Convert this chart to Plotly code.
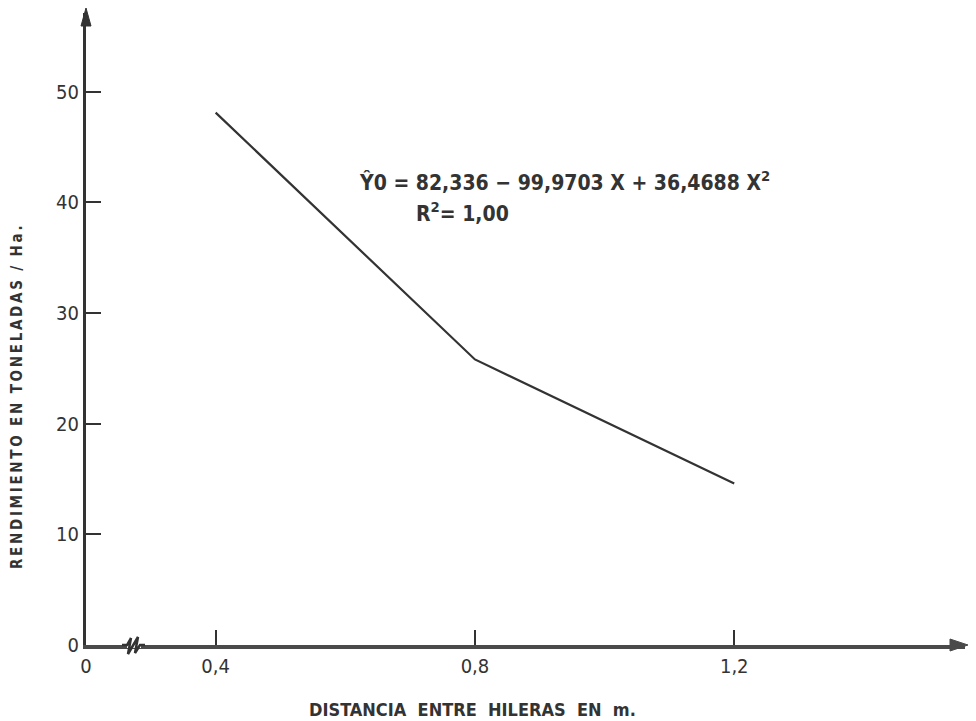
import plotly.graph_objects as go

# Data
distancia = [0.4, 0.8, 1.2]          # m between rows
rendimiento = [48.1, 25.8, 14.6]     # t/ha

x_tickvals = [0.2, 0.4, 0.8, 1.2]
x_ticktext = ["0", "0,4", "0,8", "1,2"]
y_tickvals = [0, 10, 20, 30, 40, 50]
y_ticktext = ["0", "10", "20", "30", "40", "50"]

FONT = "DejaVu Sans Condensed, Roboto Condensed, Liberation Sans Narrow, Roboto, sans-serif"
INK = "#333333"

fig = go.Figure()
fig.add_trace(go.Scatter(x=distancia, y=rendimiento, mode="lines",
                         line=dict(color=INK, width=2.2), showlegend=False,
                         hoverinfo="skip"))

XR = [0.2, 1.556]
YR = [0, 57.1]

# page body has an 8px margin; plot area is placed at x 86..965, y 13..645 on screen
L, T, PW, PH = 86, 13, 879, 632

def px(p):
    return (p - L) / PW

def py(p):
    return (T + PH - p) / PH

fig.update_layout(
    width=968, height=713,
    margin=dict(l=L - 8, r=968 - (L - 8) - PW, t=T - 8, b=713 - (T - 8) - PH),
    paper_bgcolor="white", plot_bgcolor="white",
    font=dict(family=FONT, color=INK),
    xaxis=dict(range=XR, tickvals=x_tickvals, ticktext=x_ticktext,
               ticks="inside", ticklen=15, tickwidth=2, tickcolor=INK,
               showline=True, linewidth=4, linecolor="#4a4a4a",
               showgrid=False, zeroline=False, automargin=False,
               tickfont=dict(size=20, family=FONT, color=INK)),
    yaxis=dict(range=YR, tickvals=y_tickvals, ticktext=y_ticktext,
               ticks="inside", ticklen=15, tickwidth=2, tickcolor=INK,
               showline=True, linewidth=3, linecolor="#333333",
               showgrid=False, zeroline=False, automargin=False,
               tickfont=dict(size=20, family=FONT, color=INK)),
)

NB = "\u00a0"

# Axis titles
xtitle = "DISTANCIA ENTRE HILERAS EN m."
xtitle_spaced = (NB * 2).join(xtitle.split(" "))
fig.add_annotation(xref="paper", yref="paper", x=px(472), y=py(709), showarrow=False,
                   xanchor="center", yanchor="middle",
                   text=f"<b>{xtitle_spaced}</b>",
                   font=dict(size=18, family=FONT, color=INK))
ytitle = "RENDIMIENTO EN TONELADAS / Ha."
ytitle_spaced = (NB * 2).join("\u2009".join(w) for w in ytitle.split(" "))
fig.add_annotation(xref="paper", yref="paper", x=px(17), y=py(397), showarrow=False,
                   xanchor="center", yanchor="middle",
                   textangle=-90, text=f"<b>{ytitle_spaced}</b>",
                   font=dict(size=15, family=FONT, color=INK))

# Axis arrowheads
fig.add_shape(type="path", xref="paper", yref="paper",
              path=f"M {px(968)} {py(645)} L {px(950)} {py(639)} L {px(950)} {py(651)} Z",
              fillcolor="#4a4a4a", line=dict(color="#4a4a4a", width=1), layer="above")
fig.add_shape(type="path", xref="paper", yref="paper",
              path=f"M {px(86)} {py(8)} L {px(81)} {py(26)} L {px(91)} {py(26)} Z",
              fillcolor="#333333", line=dict(color="#333333", width=1), layer="above")

# Axis break mark
fig.add_shape(type="rect", xref="paper", yref="paper",
              x0=px(127), x1=px(141), y0=py(648), y1=py(642),
              fillcolor="white", line=dict(width=0), layer="above")
fig.add_shape(type="path", xref="paper", yref="paper",
              path=f"M {px(122)} {py(645)} L {px(127)} {py(645)} L {px(131)} {py(638)} "
                   f"L {px(128)} {py(654)} L {px(138)} {py(637)} L {px(135)} {py(653)} "
                   f"L {px(140)} {py(645)} L {px(145)} {py(645)}",
              line=dict(color="#333333", width=2.5), layer="above")

# Equation
fig.add_annotation(xref="paper", yref="paper", x=px(357), y=py(181),
                   xanchor="left", yanchor="middle", showarrow=False,
                   text="<b>Ŷ0 = 82,336 − 99,9703 X + 36,4688 X<sup>2</sup></b>",
                   font=dict(size=21, family=FONT, color=INK))
fig.add_annotation(xref="paper", yref="paper", x=px(414), y=py(212),
                   xanchor="left", yanchor="middle", showarrow=False,
                   text="<b>R<sup>2</sup>= 1,00</b>",
                   font=dict(size=21, family=FONT, color=INK))

fig.write_html("out.html")
